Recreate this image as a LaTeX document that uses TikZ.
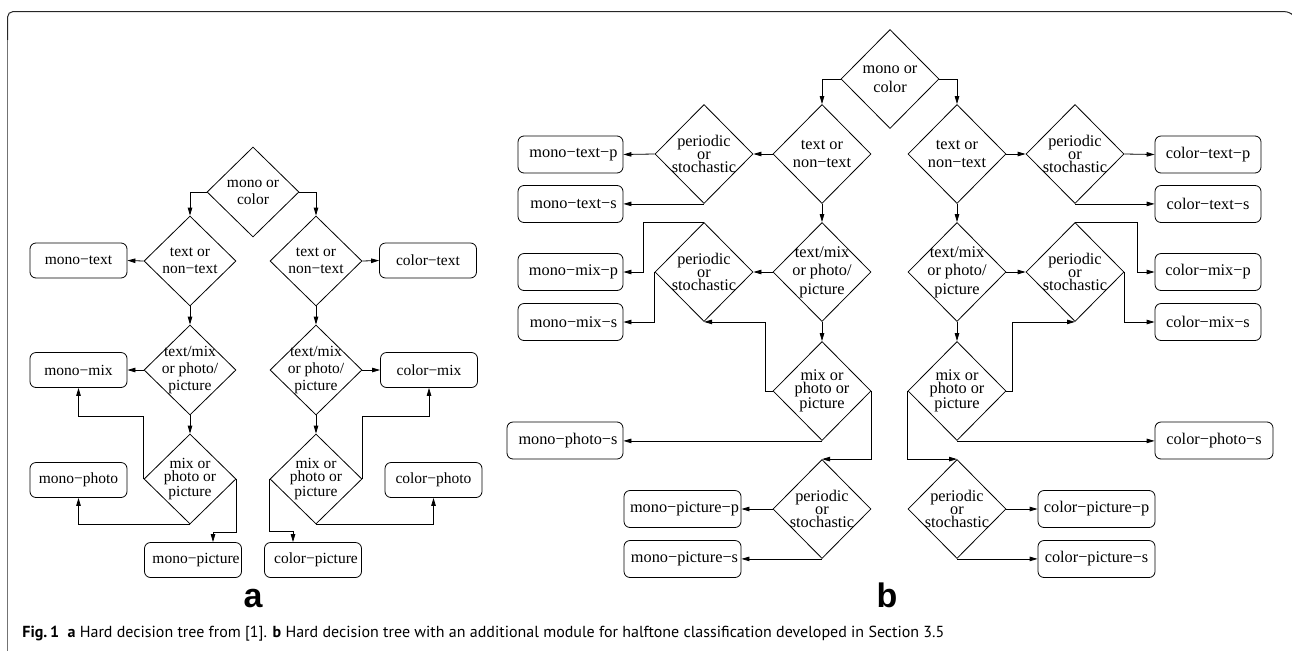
\documentclass[tikz,border=0pt]{standalone}
\usepackage{fontspec}
\setmainfont{Liberation Serif}
\newfontfamily\capfont{PT Sans}
\newfontfamily\labfont{Liberation Sans}
\usetikzlibrary{shapes.geometric,arrows.meta,calc}
\begin{document}
\begin{tikzpicture}[x=1pt,y=-1pt,
  line width=0.8pt,
  every node/.style={inner sep=0pt},
  arr/.style={-{Triangle[length=8pt,width=4.5pt]}},
  diaA/.style={draw,diamond,minimum width=92pt,minimum height=90pt},
  diaB/.style={draw,diamond,minimum width=98pt,minimum height=99pt},
  txA/.style={align=center,font=\fontsize{15.5}{17}\selectfont},
  txAt/.style={align=center,font=\fontsize{15.5}{12.5}\selectfont},
  txB/.style={align=center,font=\fontsize{16.3}{18.5}\selectfont},
  txBt/.style={align=center,font=\fontsize{16.3}{13}\selectfont},
  boxA/.style={draw,rounded corners=6pt,minimum width=97pt,minimum height=35pt,font=\fontsize{15.5}{17}\selectfont},
  boxB/.style={draw,rounded corners=6pt,minimum width=105pt,minimum height=37pt,font=\fontsize{16.3}{18}\selectfont},
]
\useasboundingbox (0,0) rectangle (1292,651);
% frame
\draw[line width=1pt,black!85,rounded corners=5pt] (7.7,40) -- (7.7,11.7) -- (1290,11.7) -- (1291.5,13.5);
\draw[line width=1pt,black!55] (7.7,40) -- (7.7,651);

% ---------------- diagram a ----------------
\node[diaA,label={[txA]center:mono or\\color}] (A0) at (253,192) {};
\node[diaA,label={[txA]center:text or\\non−text}] (AL1) at (190,261) {};
\node[diaA,label={[txA]center:text or\\non−text}] (AR1) at (316,261) {};
\node[diaA,label={[txA]center:text/mix\\or photo/\\picture}] (AL2) at (190,370) {};
\node[diaA,label={[txA]center:text/mix\\or photo/\\picture}] (AR2) at (316,370) {};
\node[diaA,label={[txAt]center:mix or\\photo or\\picture}] (AL3) at (190,479) {};
\node[diaA,label={[txAt]center:mix or\\photo or\\picture}] (AR3) at (316,479) {};

\node[boxA] (mt) at (78.5,260.5) {mono−text};
\node[boxA] (ct) at (428,260.5) {color−text};
\node[boxA] (mm) at (78.5,370) {mono−mix};
\node[boxA] (cm) at (429,370) {color−mix};
\node[boxA] (mp) at (78.5,480) {mono−photo};
\node[boxA] (cp) at (433.5,480) {color−photo};
\node[boxA] (mpic) at (193,560) {\hspace{6pt}mono−picture};
\node[boxA] (cpic) at (313,560) {\hspace{6pt}color−picture};

\draw[arr] (A0.west) -| (AL1.north);
\draw[arr] (A0.east) -| (AR1.north);
\draw[arr] (AL1.west) -- (mt.east);
\draw[arr] (AR1.east) -- (ct.west);
\draw[arr] (AL1.south) -- (AL2.north);
\draw[arr] (AR1.south) -- (AR2.north);
\draw[arr] (AL2.west) -- (mm.east);
\draw[arr] (AR2.east) -- (cm.west);
\draw[arr] (AL2.south) -- (AL3.north);
\draw[arr] (AR2.south) -- (AR3.north);
\draw[arr] (AL3.west) -- ++(0,-63) -| (mm.south);
\draw[arr] (AL3.south) -| (mp.south);
\draw[arr] (AL3.east) -- ++(0,53) -| ([xshift=20pt]mpic.north);
\draw[arr] (AR3.west) -- ++(0,52) -| ([xshift=-20pt]cpic.north);
\draw[arr] (AR3.east) -- ++(0,-63) -| (cm.south);
\draw[arr] (AR3.south) -| (cp.south);

\node[font=\labfont\bfseries\fontsize{34}{34}\selectfont,anchor=base] (la) at (253,607) {a};

% ---------------- diagram b ----------------
\node[diaB,label={[txB]center:mono or\\color}] (B0) at (890,79) {};
\node[diaB,label={[txB]center:text or\\non−text}] (BL1) at (822,154) {};
\node[diaB,label={[txB]center:text or\\non−text}] (BR1) at (957,154) {};
\node[diaB,label={[txBt]center:periodic\\or\\stochastic}] (BLP1) at (704,154) {};
\node[diaB,label={[txBt]center:periodic\\or\\stochastic}] (BRP1) at (1075,154) {};
\node[diaB,label={[txB]center:text/mix\\or photo/\\picture}] (BL2) at (822,272) {};
\node[diaB,label={[txB]center:text/mix\\or photo/\\picture}] (BR2) at (957,272) {};
\node[diaB,label={[txBt]center:periodic\\or\\stochastic}] (BLP2) at (704,272) {};
\node[diaB,label={[txBt]center:periodic\\or\\stochastic}] (BRP2) at (1075,272) {};
\node[diaB,label={[txBt]center:mix or\\photo or\\picture}] (BL3) at (822,391) {};
\node[diaB,label={[txBt]center:mix or\\photo or\\picture}] (BR3) at (957,391) {};
\node[diaB,label={[txBt]center:periodic\\or\\stochastic}] (BLP3) at (822,509) {};
\node[diaB,label={[txBt]center:periodic\\or\\stochastic}] (BRP3) at (957,509) {};

\node[boxB] (mtp) at (570.5,154.5) {\hspace{6pt}mono−text−p};
\node[boxB] (mts) at (570.5,204) {\hspace{6pt}mono−text−s};
\node[boxB] (mmp) at (570.5,272) {\hspace{6pt}mono−mix−p};
\node[boxB] (mms) at (570.5,322) {\hspace{6pt}mono−mix−s};
\node[boxB,minimum width=116pt] (mps) at (565,440.5) {\hspace{6pt}mono−photo−s};
\node[boxB,minimum width=117pt] (mpp) at (682.5,509) {\hspace{4pt}mono−picture−p};
\node[boxB,minimum width=117pt] (mpps) at (682.5,559) {\hspace{4pt}mono−picture−s};
\node[boxB,minimum width=106pt] (ctp) at (1208,154.5) {color−text−p};
\node[boxB,minimum width=106pt] (cts) at (1208,204) {color−text−s};
\node[boxB,minimum width=106pt] (cmp) at (1208,272) {color−mix−p};
\node[boxB,minimum width=106pt] (cms) at (1208,322) {color−mix−s};
\node[boxB,minimum width=118pt] (cps) at (1214,440.5) {color−photo−s};
\node[boxB,minimum width=117pt] (cpp) at (1096.5,509) {color−picture−p};
\node[boxB,minimum width=117pt] (cpps) at (1096.5,559) {color−picture−s};

\draw[arr] (B0.west) -| (BL1.north);
\draw[arr] (B0.east) -| (BR1.north);
\draw[arr] (BL1.west) -- (BLP1.east);
\draw[arr] (BLP1.west) -- (mtp.east);
\draw[arr] (BLP1.south) -- (BLP1.south -| mts.east);
\draw[arr] (BL1.south) -- (BL2.north);
\draw[arr] (BL2.west) -- (BLP2.east);
\draw[arr] (BLP2.north) -- ++(-61,0) |- (mmp.east);
\draw[arr] (BLP2.west) |- (mms.east);
\draw[arr] (BL2.south) -- (BL3.north);
\draw[arr] (BL3.west) -- ++(-7,0) |- (BLP2.south);
\draw[arr] (BL3.south) -- (BL3.south -| mps.east);
\draw[arr] (BL3.east) |- (BLP3.north);
\draw[arr] (BLP3.west) -- (mpp.east);
\draw[arr] (BLP3.south) -- (BLP3.south -| mpps.east);

\draw[arr] (BR1.east) -- (BRP1.west);
\draw[arr] (BRP1.east) -- (ctp.west);
\draw[arr] (BRP1.south) -- (BRP1.south -| cts.west);
\draw[arr] (BR1.south) -- (BR2.north);
\draw[arr] (BR2.east) -- (BRP2.west);
\draw[arr] (BRP2.north) -- ++(62,0) |- (cmp.west);
\draw[arr] (BRP2.east) |- (cms.west);
\draw[arr] (BR2.south) -- (BR3.north);
\draw[arr] (BR3.east) -- ++(6,0) |- (BRP2.south);
\draw[arr] (BR3.south) -- (BR3.south -| cps.west);
\draw[arr] (BR3.west) |- (BRP3.north);
\draw[arr] (BRP3.east) -- (cpp.west);
\draw[arr] (BRP3.south) -- (BRP3.south -| cpps.west);

\node[font=\labfont\bfseries\fontsize{34}{34}\selectfont,anchor=base] (lb) at (887,607) {b};

% caption
\node[anchor=base west,font=\capfont\fontsize{16}{16}\selectfont] (cap) at (22,637)
  {\textbf{Fig.\,1}\ \ \textbf{a} Hard decision tree from [1]. \textbf{b} Hard decision tree with an additional module for halftone classification developed in Section 3.5};
\end{tikzpicture}
\end{document}
